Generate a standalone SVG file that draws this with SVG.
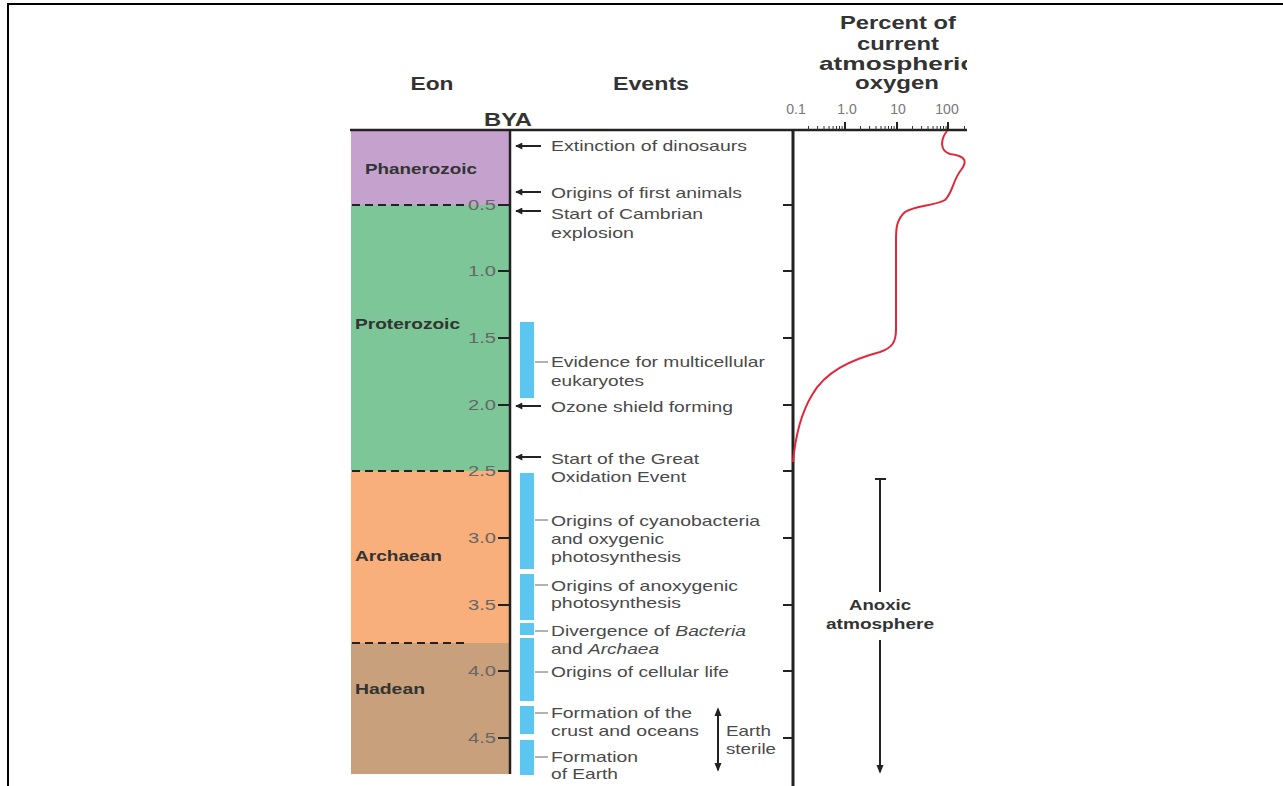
<svg xmlns="http://www.w3.org/2000/svg" width="1283" height="786" viewBox="0 0 1283 786">
<defs>
<style>
.hdr{font-family:"Liberation Sans",Arial,sans-serif;font-weight:bold;font-size:19px;fill:#333}
.eon{font-family:"Liberation Sans",Arial,sans-serif;font-weight:bold;font-size:14px;fill:#333}
.tk{font-family:"Liberation Sans",Arial,sans-serif;font-size:14px;fill:#666;text-anchor:end}
.ax{font-family:"Liberation Sans",Arial,sans-serif;font-size:14px;fill:#777;text-anchor:middle}
.ev{font-family:"Liberation Sans",Arial,sans-serif;font-size:15px;fill:#4a4a4a}
.an{font-family:"Liberation Sans",Arial,sans-serif;font-weight:bold;font-size:15px;fill:#333;text-anchor:middle}
.bar{fill:#5cc6f0}
.con{stroke:#666;stroke-width:1}
.arr{stroke:#222;stroke-width:2;marker-end:url(#ah)}
.tick{stroke:#222;stroke-width:2}
.dash{stroke:#222;stroke-width:2;stroke-dasharray:8,5}
</style>
<marker id="ah" viewBox="0 0 10 10" refX="9" refY="5" markerWidth="4" markerHeight="3.5" orient="auto" markerUnits="strokeWidth">
<path d="M0,0 L10,5 L0,10 Z" fill="#222"/>
</marker>
<marker id="ah2" viewBox="0 0 10 10" refX="8" refY="5" markerWidth="4.5" markerHeight="4.5" orient="auto-start-reverse" markerUnits="strokeWidth">
<path d="M0,1 L10,5 L0,9 Z" fill="#222"/>
</marker>
<clipPath id="clipimg"><rect x="330" y="0" width="637" height="786"/></clipPath>
</defs>
<rect width="1283" height="786" fill="#fff"/>
<g id="frame">
<line x1="7" y1="4" x2="1283" y2="4" stroke="#000" stroke-width="2"/>
<line x1="8" y1="3" x2="8" y2="786" stroke="#000" stroke-width="2"/>
</g>
<g id="headers">
<text class="hdr" x="432" y="90" text-anchor="middle" textLength="43" lengthAdjust="spacingAndGlyphs">Eon</text>
<text class="hdr" x="651" y="90" text-anchor="middle" textLength="76" lengthAdjust="spacingAndGlyphs">Events</text>
<text class="hdr" x="508" y="126" text-anchor="middle" textLength="48" lengthAdjust="spacingAndGlyphs">BYA</text>
<g clip-path="url(#clipimg)">
<text class="hdr" x="898" y="29" text-anchor="middle" textLength="116" lengthAdjust="spacingAndGlyphs">Percent of</text>
<text class="hdr" x="898" y="50" text-anchor="middle" textLength="82" lengthAdjust="spacingAndGlyphs">current</text>
<text class="hdr" x="897" y="70" text-anchor="middle" textLength="156" lengthAdjust="spacingAndGlyphs">atmospheric</text>
<text class="hdr" x="897" y="89" text-anchor="middle" textLength="84" lengthAdjust="spacingAndGlyphs">oxygen</text>
</g>
</g>
<g id="eons">
<g id="phanerozoic"><rect x="351" y="131" width="159" height="74" fill="#c5a1ce"/><text class="eon" x="365" y="174" textLength="112" lengthAdjust="spacingAndGlyphs">Phanerozoic</text></g>
<g id="proterozoic"><rect x="351" y="205" width="159" height="266" fill="#7dc697"/><text class="eon" x="355" y="329" textLength="105" lengthAdjust="spacingAndGlyphs">Proterozoic</text></g>
<g id="archaean"><rect x="351" y="471" width="159" height="172" fill="#f8af7b"/><text class="eon" x="355" y="561" textLength="87" lengthAdjust="spacingAndGlyphs">Archaean</text></g>
<g id="hadean"><rect x="351" y="643" width="159" height="131" fill="#c8a07b"/><text class="eon" x="355" y="694" textLength="70" lengthAdjust="spacingAndGlyphs">Hadean</text></g>
<line class="dash" x1="352" y1="205" x2="466" y2="205"/>
<line class="dash" x1="352" y1="471" x2="466" y2="471"/>
<line class="dash" x1="352" y1="643" x2="466" y2="643"/>
</g>
<g id="bya-axis">
<line x1="350" y1="130" x2="967" y2="130" stroke="#222" stroke-width="2.5"/>
<line x1="510" y1="130" x2="510" y2="774" stroke="#222" stroke-width="2.5"/>
<g class="tick">
<line x1="498" y1="205" x2="510" y2="205"/>
<line x1="498" y1="271" x2="510" y2="271"/>
<line x1="498" y1="338" x2="510" y2="338"/>
<line x1="498" y1="405" x2="510" y2="405"/>
<line x1="498" y1="471" x2="510" y2="471"/>
<line x1="498" y1="538" x2="510" y2="538"/>
<line x1="498" y1="605" x2="510" y2="605"/>
<line x1="498" y1="671" x2="510" y2="671"/>
<line x1="498" y1="738" x2="510" y2="738"/>
</g>
<text class="tk" x="496" y="210" textLength="28" lengthAdjust="spacingAndGlyphs">0.5</text>
<text class="tk" x="496" y="276" textLength="28" lengthAdjust="spacingAndGlyphs">1.0</text>
<text class="tk" x="496" y="343" textLength="28" lengthAdjust="spacingAndGlyphs">1.5</text>
<text class="tk" x="496" y="410" textLength="28" lengthAdjust="spacingAndGlyphs">2.0</text>
<text class="tk" x="496" y="476" textLength="28" lengthAdjust="spacingAndGlyphs">2.5</text>
<text class="tk" x="496" y="543" textLength="28" lengthAdjust="spacingAndGlyphs">3.0</text>
<text class="tk" x="496" y="610" textLength="28" lengthAdjust="spacingAndGlyphs">3.5</text>
<text class="tk" x="496" y="676" textLength="28" lengthAdjust="spacingAndGlyphs">4.0</text>
<text class="tk" x="496" y="743" textLength="28" lengthAdjust="spacingAndGlyphs">4.5</text>
</g>
<g id="bars">
<rect class="bar" x="520" y="322" width="14" height="76"/>
<rect class="bar" x="520" y="473" width="14" height="96"/>
<rect class="bar" x="520" y="574" width="14" height="46"/>
<rect class="bar" x="520" y="623" width="14" height="12"/>
<rect class="bar" x="520" y="638" width="14" height="63"/>
<rect class="bar" x="520" y="706" width="14" height="28"/>
<rect class="bar" x="520" y="740" width="14" height="35"/>
</g>
<g id="connectors">
<line class="arr" x1="541" y1="146" x2="516" y2="146"/>
<line class="arr" x1="541" y1="192" x2="516" y2="192"/>
<line class="arr" x1="541" y1="211" x2="516" y2="211"/>
<line class="arr" x1="541" y1="406" x2="516" y2="406"/>
<line class="arr" x1="541" y1="457" x2="516" y2="457"/>
<line class="con" x1="535" y1="362" x2="548" y2="362"/>
<line class="con" x1="535" y1="520" x2="548" y2="520"/>
<line class="con" x1="535" y1="585" x2="548" y2="585"/>
<line class="con" x1="535" y1="631" x2="548" y2="631"/>
<line class="con" x1="535" y1="672" x2="548" y2="672"/>
<line class="con" x1="535" y1="713" x2="548" y2="713"/>
<line class="con" x1="535" y1="757" x2="548" y2="757"/>
<line x1="718" y1="709" x2="718" y2="770" stroke="#222" stroke-width="2" marker-start="url(#ah2)" marker-end="url(#ah2)"/>
</g>
<g id="events">
<text class="ev" x="551" y="151" textLength="196" lengthAdjust="spacingAndGlyphs">Extinction of dinosaurs</text>
<text class="ev" x="551" y="198" textLength="191" lengthAdjust="spacingAndGlyphs">Origins of first animals</text>
<text class="ev" x="551" y="219" textLength="152" lengthAdjust="spacingAndGlyphs">Start of Cambrian</text>
<text class="ev" x="551" y="238" textLength="83" lengthAdjust="spacingAndGlyphs">explosion</text>
<text class="ev" x="551" y="367" textLength="214" lengthAdjust="spacingAndGlyphs">Evidence for multicellular</text>
<text class="ev" x="551" y="386" textLength="93" lengthAdjust="spacingAndGlyphs">eukaryotes</text>
<text class="ev" x="551" y="412" textLength="182" lengthAdjust="spacingAndGlyphs">Ozone shield forming</text>
<text class="ev" x="551" y="464" textLength="148" lengthAdjust="spacingAndGlyphs">Start of the Great</text>
<text class="ev" x="551" y="482" textLength="135" lengthAdjust="spacingAndGlyphs">Oxidation Event</text>
<text class="ev" x="551" y="526" textLength="209" lengthAdjust="spacingAndGlyphs">Origins of cyanobacteria</text>
<text class="ev" x="551" y="544" textLength="113" lengthAdjust="spacingAndGlyphs">and oxygenic</text>
<text class="ev" x="551" y="562" textLength="130" lengthAdjust="spacingAndGlyphs">photosynthesis</text>
<text class="ev" x="551" y="591" textLength="187" lengthAdjust="spacingAndGlyphs">Origins of anoxygenic</text>
<text class="ev" x="551" y="608" textLength="130" lengthAdjust="spacingAndGlyphs">photosynthesis</text>
<text class="ev" x="551" y="636" textLength="195" lengthAdjust="spacingAndGlyphs">Divergence of <tspan font-style="italic">Bacteria</tspan></text>
<text class="ev" x="551" y="654" textLength="108" lengthAdjust="spacingAndGlyphs">and <tspan font-style="italic">Archaea</tspan></text>
<text class="ev" x="551" y="677" textLength="178" lengthAdjust="spacingAndGlyphs">Origins of cellular life</text>
<text class="ev" x="551" y="718" textLength="141" lengthAdjust="spacingAndGlyphs">Formation of the</text>
<text class="ev" x="551" y="736" textLength="148" lengthAdjust="spacingAndGlyphs">crust and oceans</text>
<text class="ev" x="551" y="762" textLength="87" lengthAdjust="spacingAndGlyphs">Formation</text>
<text class="ev" x="551" y="779" textLength="67" lengthAdjust="spacingAndGlyphs">of Earth</text>
<text class="ev" x="726" y="736" textLength="45" lengthAdjust="spacingAndGlyphs">Earth</text>
<text class="ev" x="726" y="754" textLength="50" lengthAdjust="spacingAndGlyphs">sterile</text>
</g>
<g id="oxygen-graph">
<line x1="793" y1="130" x2="793" y2="786" stroke="#222" stroke-width="3"/>
<g class="tick">
<line x1="783" y1="205" x2="793" y2="205"/>
<line x1="783" y1="271" x2="793" y2="271"/>
<line x1="783" y1="338" x2="793" y2="338"/>
<line x1="783" y1="405" x2="793" y2="405"/>
<line x1="783" y1="471" x2="793" y2="471"/>
<line x1="783" y1="538" x2="793" y2="538"/>
<line x1="783" y1="605" x2="793" y2="605"/>
<line x1="783" y1="671" x2="793" y2="671"/>
<line x1="783" y1="738" x2="793" y2="738"/>
</g>
<g stroke="#333" stroke-width="1">
<path d="M808.5,126V130M817.6,126V130M824,126V130M829,126V130M833.1,126V130M836.5,126V130M839.5,126V130M842.1,126V130"/>
<path d="M860.5,126V130M869.6,126V130M876,126V130M881,126V130M885.1,126V130M888.5,126V130M891.5,126V130M894.1,126V130"/>
<path d="M912.5,126V130M921.6,126V130M928,126V130M933,126V130M937.1,126V130M940.5,126V130M943.5,126V130M946.1,126V130"/>
<path d="M964.5,126V130"/>
</g>
<g stroke="#222" stroke-width="2">
<line x1="845" y1="122" x2="845" y2="130"/>
<line x1="897" y1="122" x2="897" y2="130"/>
<line x1="948" y1="122" x2="948" y2="130"/>
</g>
<text class="ax" x="796" y="114">0.1</text>
<text class="ax" x="847" y="114">1.0</text>
<text class="ax" x="898" y="114">10</text>
<text class="ax" x="947" y="114">100</text>
<path d="M947,131 C940,140 940,151 950,154 C967,156 967,162 961,170 C953,180 953,192 945,200 C935,206 915,205 905,212 C896,220 896,230 896,240 L896,330 C896,342 892,348 880,352 C850,360 825,372 812,395 C800,415 795,440 793,462" fill="none" stroke="#e0283a" stroke-width="2" clip-path="url(#clipimg)"/>
</g>
<g id="anoxic">
<line x1="875" y1="479" x2="886" y2="479" stroke="#222" stroke-width="2"/>
<line x1="880" y1="479" x2="880" y2="592" stroke="#222" stroke-width="2"/>
<text class="an" x="880" y="610" textLength="62" lengthAdjust="spacingAndGlyphs">Anoxic</text>
<text class="an" x="880" y="629" textLength="108" lengthAdjust="spacingAndGlyphs">atmosphere</text>
<line x1="880" y1="640" x2="880" y2="772" stroke="#222" stroke-width="2" marker-end="url(#ah2)"/>
</g>
</svg>
